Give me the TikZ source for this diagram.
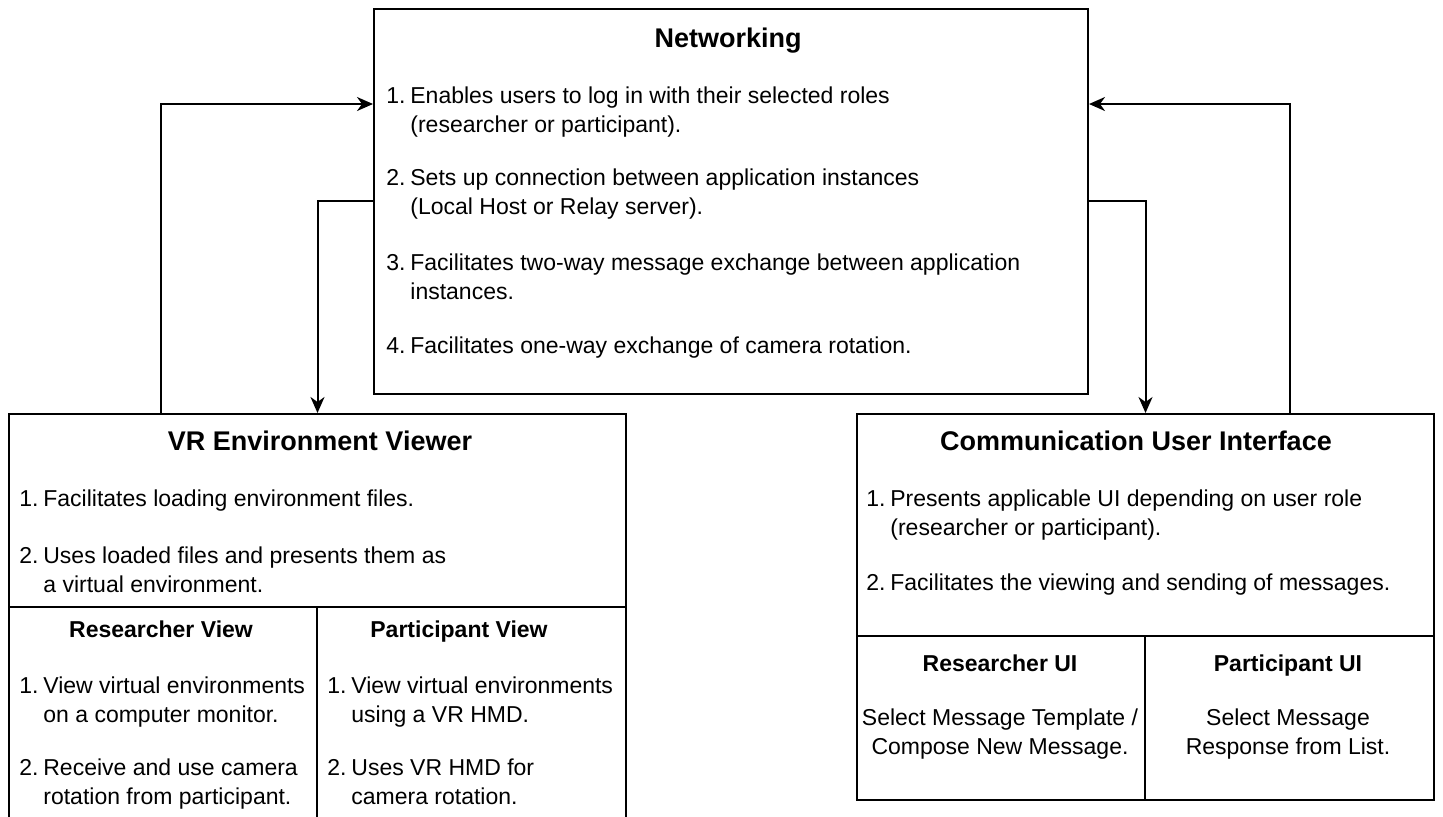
\documentclass[tikz,border=0pt]{standalone}
\usepackage{fontspec}
\setmainfont{Liberation Sans}
\usetikzlibrary{arrows.meta,calc}

\newcommand{\numitem}[2]{\makebox[12pt][l]{#1}\begin{tabular}[t]{@{}l@{}}#2\end{tabular}}
\newcommand{\midtext}[1]{\begin{tabular}[t]{@{}c@{}}#1\end{tabular}}

\begin{document}
\begin{tikzpicture}[x=0.5pt,y=-0.5pt,
  box/.style={draw,line width=1pt,inner sep=0,anchor=north west},
  title/.style={font=\fontsize{13.5}{16}\selectfont\bfseries,anchor=base,inner sep=0},
  head/.style={font=\fontsize{11.5}{14.5}\selectfont\bfseries,anchor=base,inner sep=0},
  txt/.style={font=\fontsize{11.5}{14.5}\selectfont,anchor=base west,inner sep=0},
  ctxt/.style={font=\fontsize{11.5}{14.5}\selectfont,anchor=base,inner sep=0},
  link/.style={draw,line width=1pt,-{Stealth[length=8pt,width=7pt,inset=2.5pt]}}]
\useasboundingbox (0,0) rectangle (1443,816);
\clip (0,0) rectangle (1443,816);

\node[box,minimum width=357pt,minimum height=192.5pt] (net) at (373,8) {};
\node[box,minimum width=308.5pt,minimum height=96.5pt] (vrtop) at (8,413) {};
\node[box,minimum width=154pt,minimum height=120pt] (resview) at (8,606) {};
\node[box,minimum width=154.5pt,minimum height=120pt] (partview) at (316,606) {};
\node[box,minimum width=288.5pt,minimum height=111pt] (comtop) at (856,413) {};
\node[box,minimum width=144pt,minimum height=82pt] (resui) at (856,635) {};
\node[box,minimum width=144.5pt,minimum height=82pt] (partui) at (1144,635) {};

% networking
\node[title] (nettitle) at (728,47) {Networking};
\node[txt] (n1) at (386,103) {\numitem{1.}{Enables users to log in with their selected roles\\(researcher or participant).}};
\node[txt] (n2) at (386,185) {\numitem{2.}{Sets up connection between application instances\\(Local Host or Relay server).}};
\node[txt] (n3) at (386,270) {\numitem{3.}{Facilitates two-way message exchange between application\\instances.}};
\node[txt] (n4) at (386,353) {\numitem{4.}{Facilitates one-way exchange of camera rotation.}};

% vr viewer
\node[title] (vrtitle) at (320,450) {VR Environment Viewer};
\node[txt] (v1) at (19,506) {\numitem{1.}{Facilitates loading environment files.}};
\node[txt] (v2) at (19,563) {\numitem{2.}{Uses loaded files and presents them as\\a virtual environment.}};
\node[head] (rvhead) at (161,637) {Researcher View};
\node[head] (pvhead) at (459,637) {Participant View};
\node[txt] (r1) at (19,693) {\numitem{1.}{View virtual environments\\on a computer monitor.}};
\node[txt] (r2) at (19,775) {\numitem{2.}{Receive and use camera\\rotation from participant.}};
\node[txt] (p1) at (327,693) {\numitem{1.}{View virtual environments\\using a VR HMD.}};
\node[txt] (p2) at (327,775) {\numitem{2.}{Uses VR HMD for\\camera rotation.}};

% communication ui
\node[title] (comtitle) at (1136,450) {Communication User Interface};
\node[txt] (c1) at (866,506) {\numitem{1.}{Presents applicable UI depending on user role\\(researcher or participant).}};
\node[txt] (c2) at (866,590) {\numitem{2.}{Facilitates the viewing and sending of messages.}};
\node[head] (ruhead) at (1000,671) {Researcher UI};
\node[head] (puhead) at (1288,671) {Participant UI};
\node[ctxt] (rutext) at (1000,725) {\midtext{Select Message Template /\\Compose New Message.}};
\node[ctxt] (putext) at (1288,725) {\midtext{Select Message\\Response from List.}};

\path[link] ($(vrtop.north west)+(153,0)$) |- ($(net.north west)+(0,96)$);
\path[link] ($(net.north west)+(0,193)$) -| (vrtop.north);
\path[link] ($(net.north east)+(0,193)$) -| (comtop.north);
\path[link] ($(comtop.north east)+(-145,0)$) |- ($(net.north east)+(0,96)$);
\end{tikzpicture}
\end{document}
